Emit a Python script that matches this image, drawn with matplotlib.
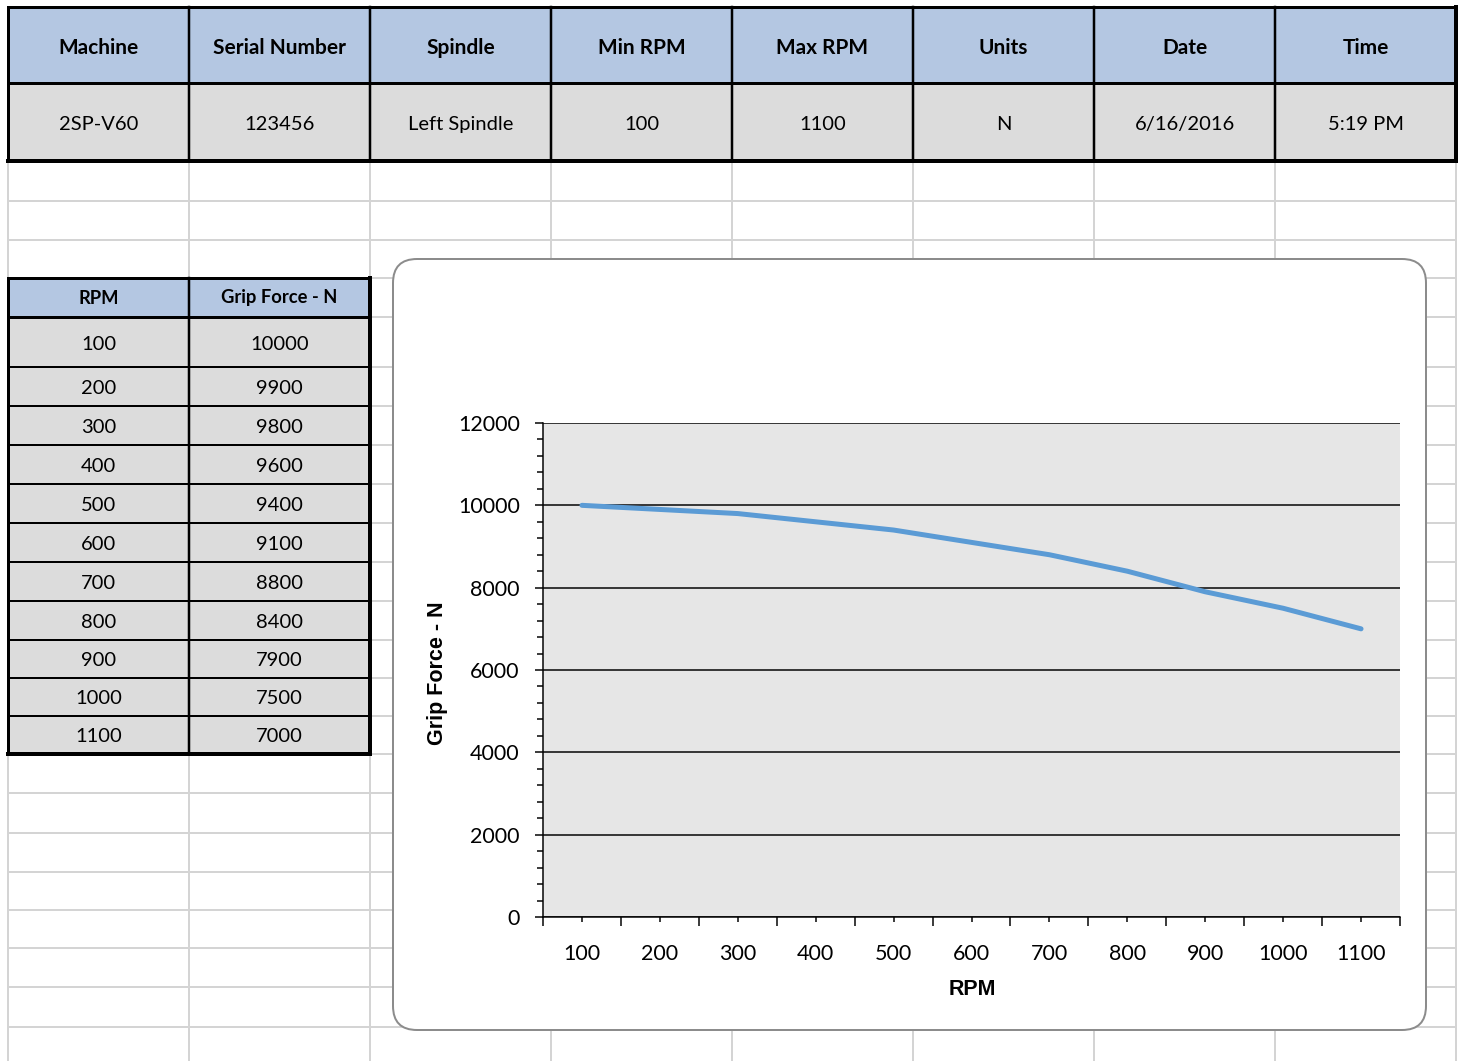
import matplotlib
matplotlib.use("Agg")
import numpy as np
import matplotlib.pyplot as plt
from matplotlib.patches import Rectangle, FancyBboxPatch
from matplotlib.ticker import FixedLocator, MultipleLocator

# Header record
info_fields = ["Machine", "Serial Number", "Spindle", "Min RPM", "Max RPM", "Units", "Date", "Time"]
info_values = ["2SP-V60", "123456", "Left Spindle", "100", "1100", "N", "6/16/2016", "5:19 PM"]

# Grip force measurements
table_headers = ["RPM", "Grip Force - N"]
rpm = [100, 200, 300, 400, 500, 600, 700, 800, 900, 1000, 1100]
grip_force = [10000, 9900, 9800, 9600, 9400, 9100, 8800, 8400, 7900, 7500, 7000]
y_ticks = [0, 2000, 4000, 6000, 8000, 10000, 12000]

W, H, DPI = 1461, 1061, 100
PX = 72 / DPI  # one pixel in points

# Worksheet geometry (pixels)
col_x = [8, 189, 370, 551, 732, 913, 1094, 1275, 1456]
row_y = [161, 201, 240, 278, 317, 367, 406, 445, 484, 523, 562, 601, 640,
         678, 716, 754, 793, 833, 872, 910, 948, 987, 1027]

SHEET_FONT = "Lato"
HEAD_FILL = "#b4c7e2"
CELL_FILL = "#dcdcdc"
GRID_C = "#d4d4d4"

fig = plt.figure(figsize=(W / DPI, H / DPI), dpi=DPI)
fig.patch.set_facecolor("white")
sheet = fig.add_axes([0, 0, 1, 1])
sheet.set_xlim(0, W)
sheet.set_ylim(H, 0)
sheet.axis("off")


def line(x0, y0, x1, y1, lw, color="black", z=3):
    sheet.plot([x0, x1], [y0, y1], color=color, lw=lw * PX, zorder=z,
               solid_capstyle="projecting")


def cell_text(x, y_base, s, size, bold=False):
    sheet.text(x, y_base, s, ha="center", va="baseline", fontsize=size,
               fontweight="bold" if bold else "normal", family=SHEET_FONT, zorder=4)


# Light worksheet gridlines
for y in row_y:
    sheet.plot([col_x[0], col_x[-1]], [y, y], color=GRID_C, lw=2 * PX, zorder=1)
for x in col_x:
    sheet.plot([x, x], [161, H], color=GRID_C, lw=2 * PX, zorder=1)

# Header record table
t_top, t_mid, t_bot = 7, 83, 161
for i, (field, value) in enumerate(zip(info_fields, info_values)):
    x0, x1 = col_x[i], col_x[i + 1]
    sheet.add_patch(Rectangle((x0, t_top), x1 - x0, t_mid - t_top, fc=HEAD_FILL, ec="none", zorder=2))
    sheet.add_patch(Rectangle((x0, t_mid), x1 - x0, t_bot - t_mid, fc=CELL_FILL, ec="none", zorder=2))
    cx = (x0 + x1) / 2
    cell_text(cx, (t_top + t_mid) / 2 + 9, field, 15, bold=True)
    cell_text(cx, (t_mid + t_bot) / 2 + 8, value, 14.5)
for x in col_x[1:-1]:
    line(x, t_top, x, t_bot, 2.5)
line(col_x[0], t_mid, col_x[-1], t_mid, 3)
line(col_x[0], t_top, col_x[-1], t_top, 3)
line(col_x[0], t_bot, col_x[-1], t_bot, 4)
line(col_x[0], t_top, col_x[0], t_bot, 3)
line(col_x[-1], t_top, col_x[-1], t_bot, 4)

# RPM / grip force table
t2_rows = row_y[3:16]
tx = col_x[:3]
for j, head in enumerate(table_headers):
    x0, x1 = tx[j], tx[j + 1]
    sheet.add_patch(Rectangle((x0, t2_rows[0]), x1 - x0, t2_rows[1] - t2_rows[0],
                              fc=HEAD_FILL, ec="none", zorder=2))
    sheet.add_patch(Rectangle((x0, t2_rows[1]), x1 - x0, t2_rows[-1] - t2_rows[1],
                              fc=CELL_FILL, ec="none", zorder=2))
    cell_text((x0 + x1) / 2, (t2_rows[0] + t2_rows[1]) / 2 + 6, head, 13.2, bold=True)
for k, (r, f) in enumerate(zip(rpm, grip_force)):
    yb = (t2_rows[k + 1] + t2_rows[k + 2]) / 2 + 7.5
    cell_text((tx[0] + tx[1]) / 2, yb, str(r), 14.5)
    cell_text((tx[1] + tx[2]) / 2, yb, str(f), 14.5)
for y in t2_rows[2:-1]:
    line(tx[0], y, tx[2], y, 2)
line(tx[0], t2_rows[0], tx[2], t2_rows[0], 3)
line(tx[0], t2_rows[1], tx[2], t2_rows[1], 3)
line(tx[0], t2_rows[-1], tx[2], t2_rows[-1], 4)
line(tx[1], t2_rows[0], tx[1], t2_rows[-1], 2.5)
line(tx[0], t2_rows[0], tx[0], t2_rows[-1], 3)
line(tx[2], t2_rows[0], tx[2], t2_rows[-1], 4)

# Chart frame
sheet.add_patch(FancyBboxPatch((393, 259), 1033, 771,
                               boxstyle="round,pad=0,rounding_size=24",
                               fc="white", ec="#8c8c8c", lw=2 * PX, zorder=5))

# Plot area
pl, pr, pt, pb = 543, 1400, 423, 917
ax = fig.add_axes([pl / W, (H - pb) / H, (pr - pl) / W, (pb - pt) / H])
ax.set_facecolor("#e6e6e6")
xs = np.arange(len(rpm))
ax.plot(xs, grip_force, color="#5b9bd5", lw=5 * PX, solid_capstyle="round",
        solid_joinstyle="round", zorder=3)
ax.set_xlim(-0.5, len(rpm) - 0.5)
ax.set_ylim(y_ticks[0], y_ticks[-1])

ax.yaxis.set_major_locator(FixedLocator(y_ticks))
ax.yaxis.set_minor_locator(MultipleLocator(400))
ax.grid(axis="y", which="major", color="black", lw=1.5 * PX, zorder=1)
ax.set_axisbelow(True)

ax.xaxis.set_major_locator(FixedLocator(xs))
ax.set_xticklabels([str(r) for r in rpm])
ax.xaxis.set_minor_locator(FixedLocator(np.arange(-0.5, len(rpm), 1.0)))

for s in ("top", "right"):
    ax.spines[s].set_visible(False)
for s in ("left", "bottom"):
    ax.spines[s].set_color("black")
    ax.spines[s].set_linewidth(1.5 * PX)

ax.tick_params(axis="y", which="major", direction="out", length=8 * PX, width=1.5 * PX,
               pad=11, labelsize=15.5)
ax.tick_params(axis="y", which="minor", direction="out", length=6 * PX, width=1.5 * PX)
ax.tick_params(axis="x", which="major", direction="out", length=5 * PX, width=1.5 * PX,
               pad=15.5, labelsize=15.5)
ax.tick_params(axis="x", which="minor", direction="out", length=9 * PX, width=1.5 * PX)
for lab in ax.get_xticklabels() + ax.get_yticklabels():
    lab.set_family(SHEET_FONT)

ax.set_xlabel("RPM", fontsize=15.5, fontweight="bold", family="Liberation Sans")
ax.xaxis.set_label_coords((972 - pl) / (pr - pl), -(979 - pb) / (pb - pt))
ax.set_ylabel("Grip Force - N", fontsize=15.5, fontweight="bold", family="Liberation Sans")
ax.yaxis.set_label_coords(-(pl - 448) / (pr - pl), (pb - 673) / (pb - pt))

fig.savefig("out.png", dpi=DPI, facecolor="white")
